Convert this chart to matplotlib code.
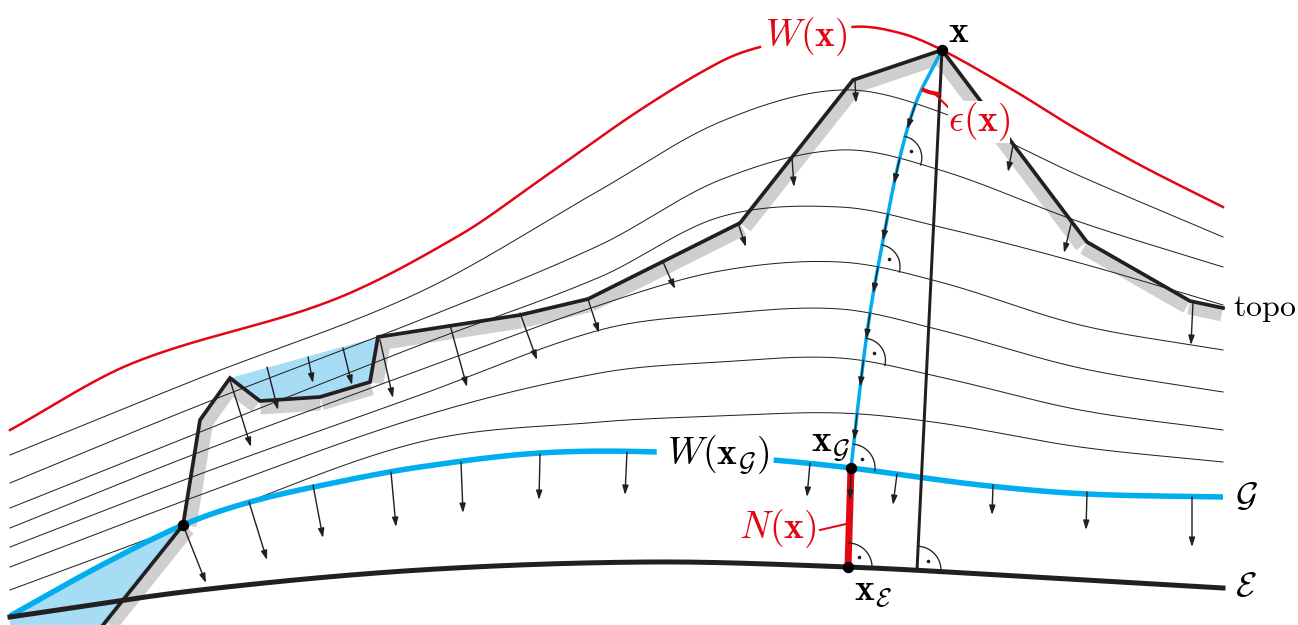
import numpy as np
import matplotlib
matplotlib.use("Agg")
import matplotlib.pyplot as plt
from matplotlib.patches import FancyArrowPatch, Polygon

plt.rcParams["mathtext.fontset"] = "cm"

# sketch coordinates in pixels (y grows downward)
# equipotential surface through x
W_X = [10, 133, 333, 460, 540, 640, 720, 760, 852, 900, 942, 1013, 1073, 1140, 1223]
W_Y = [430, 363, 300, 235, 180, 110, 62, 47, 27, 33, 50, 90, 127, 165, 207]

# thin level surfaces, all read at the same x positions
LEVEL_X = [10, 200, 420, 600, 720, 840, 940, 1080, 1223]
LEVEL_Y = [
    [455, 378, 292, 190, 122, 90, 112, 176, 237],
    [483, 405, 320, 245, 180, 150, 170, 222, 267],
    [508, 432, 345, 277, 217, 207, 227, 263, 305],
    [528, 452, 370, 305, 271, 262, 282, 325, 350],
    [547, 474, 395, 330, 314, 309, 330, 368, 392],
    [567, 495, 417, 373, 362, 358, 377, 410, 430],
    [590, 520, 442, 422, 416, 413, 423, 447, 462],
]

# geoid and ellipsoid
GEOID_X = [10, 100, 183, 250, 333, 420, 540, 658, 773, 851, 980, 1087, 1223]
GEOID_Y = [616, 566, 525, 502, 483, 467, 453, 452, 460, 468, 485, 494, 497]
ELL_X = [10, 200, 420, 650, 848, 1000, 1223]
ELL_Y = [617, 590, 570, 562, 567, 575, 588]

# topography polyline and lake
TOPO_X = [91, 183, 200, 230, 260, 320, 370, 378, 520, 588, 740, 853, 942, 1087, 1190, 1223]
TOPO_Y = [640, 525, 420, 378, 401, 397, 382, 337, 315, 299, 223, 80, 50, 242, 301, 308]
LAKE_X = [230, 260, 320, 370, 378]
LAKE_Y = [378, 401, 397, 382, 337]

# plumb line from x down to the geoid
PLUMB_X = [942, 917, 900, 884, 870, 861, 851]
PLUMB_Y = [50, 100, 157, 235, 313, 380, 468]

# gravity arrows (start, end)
TOPO_ARROWS = [
    ((183, 525), (206, 583)), ((230, 380), (251, 447)), ((267, 367), (278, 410)),
    ((308, 357), (313, 383)), ((343, 348), (352, 385)), ((380, 340), (393, 398)),
    ((450, 325), (467, 387)), ((520, 313), (537, 360)), ((588, 299), (599, 333)),
    ((663, 262), (675, 289)), ((738, 223), (746, 247)), ((792, 157), (794, 187)),
    ((855, 80), (856, 103)), ((1013, 145), (1008, 172)), ((1072, 220), (1064, 253)),
    ((1193, 302), (1191, 345)),
]
GEOID_ARROWS = [
    ((249, 502), (267, 560)), ((313, 485), (323, 538)), ((391, 472), (396, 527)),
    ((461, 462), (463, 513)), ((540, 454), (539, 500)), ((627, 452), (625, 495)),
    ((810, 463), (807, 497)), ((897, 474), (893, 505)), ((993, 485), (992, 515)),
    ((1087, 492), (1086, 530)), ((1192, 497), (1192, 547)), ((851, 470), (850, 500)),
]

X_PT = (942, 50)
XG_PT = (851, 468)
XE_PT = (848, 567)
PIERCE_PT = (183, 525)
FOOT_X = 917

RED = "#e30613"
BLUE = "#00aeef"
LAKE = "#a6dcf4"
SHADOW = "#cfcfcf"
INK = "#231f20"
PX = 0.72  # points per pixel at dpi 100


def hermite(xs, ys, num=800):
    xs = np.asarray(xs, float)
    ys = np.asarray(ys, float)
    m = np.empty_like(ys)
    m[1:-1] = (ys[2:] - ys[:-2]) / (xs[2:] - xs[:-2])
    m[0] = (ys[1] - ys[0]) / (xs[1] - xs[0])
    m[-1] = (ys[-1] - ys[-2]) / (xs[-1] - xs[-2])
    xx = np.linspace(xs[0], xs[-1], num)
    i = np.clip(np.searchsorted(xs, xx) - 1, 0, len(xs) - 2)
    h = xs[i + 1] - xs[i]
    t = (xx - xs[i]) / h
    yy = ((2 * t**3 - 3 * t**2 + 1) * ys[i] + (t**3 - 2 * t**2 + t) * h * m[i]
          + (-2 * t**3 + 3 * t**2) * ys[i + 1] + (t**3 - t**2) * h * m[i + 1])
    return xx, yy


def arrow(ax, p0, p1, z=8):
    ax.add_patch(FancyArrowPatch(p0, p1, arrowstyle="-|>,head_length=5.5,head_width=1.8",
                                 mutation_scale=1, lw=1.4 * PX, color=INK,
                                 shrinkA=0, shrinkB=0, zorder=z))


def unit(v):
    v = np.asarray(v, float)
    return v / np.hypot(*v)


def right_angle(ax, p, up, right, r=22):
    a0 = np.arctan2(up[1], up[0])
    a1 = np.arctan2(right[1], right[0])
    d = (a1 - a0 + np.pi) % (2 * np.pi) - np.pi
    th = a0 + np.linspace(0, 1, 40) * d
    ax.plot(p[0] + r * np.cos(th), p[1] + r * np.sin(th), color=INK, lw=1.3 * PX, zorder=8)
    mid = a0 + d / 2
    ax.plot(p[0] + 0.6 * r * np.cos(mid), p[1] + 0.6 * r * np.sin(mid), "o",
            color=INK, ms=2.2 * PX, zorder=8)


fig = plt.figure(figsize=(12.98, 6.25), dpi=100)
ax = fig.add_axes([0, 0, 1, 1])
ax.set_xlim(0, 1298)
ax.set_ylim(625, 0)
ax.axis("off")

# topo shadow, one band per segment
tx, ty = np.array(TOPO_X, float), np.array(TOPO_Y, float)
for k in range(len(tx) - 1):
    d = np.array([tx[k + 1] - tx[k], ty[k + 1] - ty[k]])
    n = unit([-d[1], d[0]]) * 7
    ax.plot([tx[k] + n[0], tx[k + 1] + n[0]], [ty[k] + n[1], ty[k + 1] + n[1]],
            color=SHADOW, lw=13 * PX, solid_capstyle="butt", zorder=1)

# water bodies
ax.add_patch(Polygon(np.column_stack([LAKE_X, LAKE_Y]), closed=True, fc=LAKE, ec="none", zorder=2))
gx, gy = hermite(GEOID_X, GEOID_Y)
sel = gx <= PIERCE_PT[0]
fill = np.vstack([np.column_stack([gx[sel], gy[sel]]), [PIERCE_PT, (103, 630), (10, 630)]])
ax.add_patch(Polygon(fill, closed=True, fc=LAKE, ec="none", zorder=2))

# level surfaces
levels = []
for ly in LEVEL_Y:
    lx, lyy = hermite(LEVEL_X, ly)
    levels.append((lx, lyy))
    ax.plot(lx, lyy, color=INK, lw=1.0 * PX, zorder=3)

# W(x)
wx, wy = hermite(W_X, W_Y)
for m in (wx <= 760, wx >= 852):
    ax.plot(wx[m], wy[m], color=RED, lw=2.5 * PX, zorder=4)

# geoid and ellipsoid
for m in (gx <= 658, gx >= 773):
    ax.plot(gx[m], gy[m], color=BLUE, lw=5.5 * PX, solid_capstyle="butt", zorder=5)
ex, ey = hermite(ELL_X, ELL_Y)
ax.plot(ex, ey, color=INK, lw=5 * PX, zorder=5)

# topography
ax.plot(tx, ty, color=INK, lw=3.7 * PX, solid_joinstyle="miter", zorder=6)

# ellipsoidal normal
foot = (FOOT_X, float(np.interp(FOOT_X, ex, ey)))
ax.plot([X_PT[0], foot[0]], [X_PT[1], foot[1]], color=INK, lw=3 * PX, zorder=7)

# plumb line, parametrised by y
py, px = hermite(PLUMB_Y, PLUMB_X)
ax.plot(px, py, color=BLUE, lw=3.5 * PX, zorder=7)

# gravity arrows along the plumb line and right angles
for j, (lx, lyy) in enumerate(levels):
    diff = np.interp(px, lx, lyy) - py
    k = np.where(np.sign(diff[:-1]) != np.sign(diff[1:]))[0][0]
    p = np.array([px[k], py[k]])
    e = np.argmin(np.abs(np.hypot(px - p[0], py - p[1]) - 27) + (py < p[1]) * 1e3)
    arrow(ax, tuple(p), (px[e], py[e]))
    if j in (1, 3, 5):
        up = unit([px[k - 20] - p[0], py[k - 20] - p[1]])
        right = unit([5, np.interp(p[0] + 5, lx, lyy) - p[1]])
        right_angle(ax, p, up, right)

up = unit([px[-30] - XG_PT[0], py[-30] - XG_PT[1]])
right_angle(ax, XG_PT, up, unit([5, np.interp(XG_PT[0] + 5, gx, gy) - XG_PT[1]]), r=24)
right_angle(ax, XE_PT, unit([XG_PT[0] - XE_PT[0], XG_PT[1] - XE_PT[1]]),
            unit([5, np.interp(XE_PT[0] + 5, ex, ey) - XE_PT[1]]), r=24)
right_angle(ax, foot, unit([X_PT[0] - foot[0], X_PT[1] - foot[1]]),
            unit([5, np.interp(foot[0] + 5, ex, ey) - foot[1]]), r=24)

for p0, p1 in TOPO_ARROWS + GEOID_ARROWS:
    arrow(ax, p0, p1)

# geoid undulation N(x)
ax.plot([XG_PT[0], XE_PT[0]], [XG_PT[1], XE_PT[1]], color=RED, lw=7 * PX,
        solid_capstyle="butt", zorder=7.5)
ax.plot([820, 846], [530, 524], color=RED, lw=2 * PX, zorder=7.5)

# deflection of the vertical
r = 44
e = np.argmin(np.abs(np.hypot(px - X_PT[0], py - X_PT[1]) - r))
a0 = np.arctan2(py[e] - X_PT[1], px[e] - X_PT[0])
a1 = np.arctan2(foot[1] - X_PT[1], foot[0] - X_PT[0])
th = np.linspace(a0, a1, 30)
ax.plot(X_PT[0] + r * np.cos(th), X_PT[1] + r * np.sin(th), color=RED, lw=4 * PX,
        solid_capstyle="butt", zorder=8)
ax.plot([933, 953], [92, 112], color=RED, lw=2 * PX, zorder=8)

# points
for p in (X_PT, XG_PT, XE_PT, PIERCE_PT):
    ax.plot(*p, "o", color="black", ms=10 * PX, zorder=9)

# labels
fs = 27
ax.text(806, 37, r"$W(\mathbf{x})$", color=RED, fontsize=fs, ha="center", va="center", zorder=10)
ax.text(959, 32, r"$\mathbf{x}$", color="black", fontsize=fs, ha="center", va="center", zorder=10)
ax.text(979, 122, r"$\epsilon(\mathbf{x})$", color=RED, fontsize=fs, ha="center", va="center",
        zorder=10, bbox=dict(fc="white", ec="none", pad=0))
ax.text(1265, 308, r"$\mathrm{topo}$", color="black", fontsize=23, ha="center", va="center",
        zorder=10)
ax.text(1246, 496, r"$\mathcal{G}$", color="black", fontsize=25, ha="center", va="center", zorder=10)
ax.text(1246, 586, r"$\mathcal{E}$", color="black", fontsize=25, ha="center", va="center", zorder=10)
ax.text(718, 455, r"$W(\mathbf{x}_\mathcal{G})$", color="black", fontsize=fs, ha="center",
        va="center", zorder=10)
ax.text(831, 446, r"$\mathbf{x}_\mathcal{G}$", color="black", fontsize=fs, ha="center",
        va="center", zorder=10)
ax.text(778, 529, r"$N(\mathbf{x})$", color=RED, fontsize=fs, ha="center", va="center", zorder=10)
ax.text(873, 592, r"$\mathbf{x}_\mathcal{E}$", color="black", fontsize=fs, ha="center",
        va="center", zorder=10)

fig.savefig("out.png", dpi=100)
